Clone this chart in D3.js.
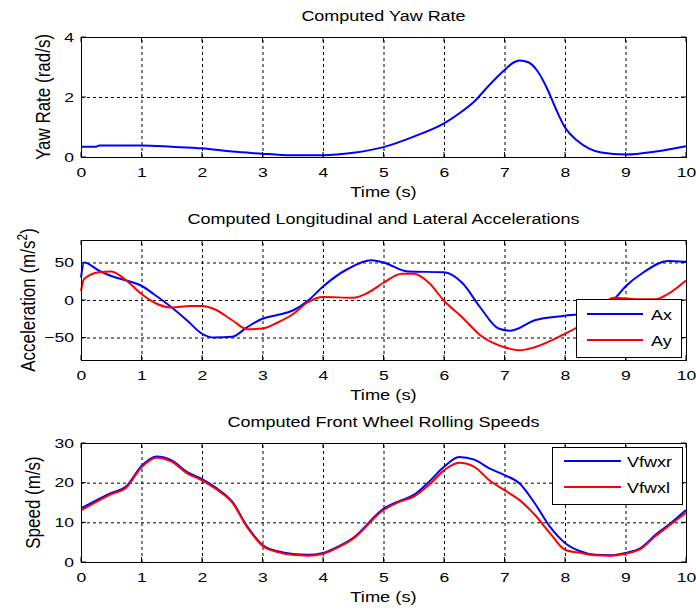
<!DOCTYPE html>
<html lang="en">
<head>
<meta charset="UTF-8">
<title>Computed vehicle signals</title>
<script src="https://d3js.org/d3.v7.min.js"></script>
<style>
    body { margin: 0; background: #fff; }
    svg { display: block; font-family: "Liberation Sans", Arial, sans-serif; }
    .grid line { stroke: #000; stroke-width: 1; stroke-dasharray: 3,3; }
    .grid path { display: none; }
    .labels path, .labels line { display: none; }
    .labels text { fill: #000; }
</style>
</head>
<body>
<svg width="696" height="612"></svg>
<script>
// time samples (s) and series
const yawTime = [0, 0.25, 0.3, 0.5, 1, 1.5, 2, 2.5, 3, 3.3, 3.5, 4, 4.5, 5, 5.5, 6, 6.25, 6.5, 6.75, 7, 7.15, 7.25, 7.4, 7.55, 7.7, 7.85, 8, 8.2, 8.4, 8.6, 9, 9.5, 10];
const yawRate = [0.34, 0.34, 0.38, 0.38, 0.38, 0.34, 0.29, 0.18, 0.11, 0.07, 0.06, 0.06, 0.14, 0.33, 0.68, 1.12, 1.45, 1.85, 2.4, 2.9, 3.15, 3.22, 3.15, 2.85, 2.3, 1.6, 0.98, 0.55, 0.28, 0.15, 0.08, 0.18, 0.36];

const axTime = [0, 0.05, 0.3, 0.5, 0.75, 1, 1.2, 1.5, 1.75, 2, 2.2, 2.5, 2.75, 3, 3.25, 3.5, 3.75, 4, 4.4, 4.8, 5, 5.4, 6, 6.3, 6.6, 6.9, 7.1, 7.5, 8, 8.3, 8.5, 8.8, 9, 9.3, 9.7, 10];
const axValues = [30, 50, 39, 32, 26, 19, 8, -10, -27, -45, -50, -49, -36, -25, -20, -14, -1, 18, 41, 53, 50, 38, 37, 23, -10, -38, -41, -27, -21, -18, -12, 0, 18, 37, 52, 51];

const ayTime = [0, 0.05, 0.3, 0.5, 0.75, 1, 1.25, 1.5, 1.8, 2, 2.2, 2.5, 2.75, 3, 3.25, 3.5, 3.75, 4, 4.5, 4.75, 5, 5.3, 5.5, 5.75, 6, 6.3, 6.6, 7, 7.25, 7.5, 8, 8.25, 8.5, 8.8, 9.2, 9.5, 9.7, 10];
const ayValues = [12, 28, 37, 38, 26, 8, -5, -10, -8, -8, -12, -27, -39, -38, -30, -19, -3, 4, 3, 10, 23, 35, 35, 23, -1, -23, -47, -63, -67, -63, -45, -34, -18, 3, 1, 1, 8, 26];

const speedTime = [0, 0.5, 0.75, 1, 1.25, 1.5, 1.75, 2, 2.25, 2.5, 2.75, 3, 3.25, 3.5, 3.75, 4, 4.25, 4.5, 5, 5.25, 5.5, 5.75, 6, 6.25, 6.5, 6.75, 7, 7.25, 7.5, 7.75, 8, 8.25, 8.5, 8.75, 9, 9.25, 9.5, 9.75, 10];
const vfwxr = [13.5, 17.4, 19.1, 24.2, 26.6, 25.6, 22.7, 20.9, 18.5, 15.2, 8.9, 4.3, 2.7, 2.0, 1.8, 2.3, 3.9, 6.1, 13.4, 15.3, 16.9, 20.2, 24.0, 26.5, 25.8, 23.6, 21.9, 19.8, 14.8, 8.9, 4.8, 2.7, 1.8, 1.7, 2.3, 3.5, 6.9, 9.8, 13.1];
const vfwxl = [13.0, 17.1, 18.8, 23.9, 26.3, 25.3, 22.4, 20.6, 18.2, 15.0, 8.7, 4.1, 2.5, 1.8, 1.6, 2.1, 3.7, 5.9, 13.1, 15.1, 16.5, 19.4, 23.1, 25.0, 24.0, 20.6, 18.1, 15.6, 11.9, 7.3, 3.1, 2.3, 1.7, 1.6, 2.1, 3.3, 6.6, 9.5, 12.4];

const timeTicks = d3.range(0, 11, 1);
const yawTicks = [0, 2, 4];
const accTicks = [-50, 0, 50];
const speedTicks = [0, 10, 20, 30];

const svg = d3.select("svg");
const left = 81, right = 686;
const sx = 1.35;   // the reference text is drawn wide

const x = d3.scaleLinear().domain([0, 10]).range([left, right]);

const panels = [
    {
        title: "Computed Yaw Rate", ylabel: ["Yaw Rate (rad/s)"], labelX: 50,
        top: 37, bottom: 157, domain: [0, 4], ticks: yawTicks,
        series: [{ t: yawTime, v: yawRate, color: "#0000ff" }]
    },
    {
        title: "Computed Longitudinal and Lateral Accelerations", ylabel: ["Acceleration (m/s", "2", ")"], labelX: 35,
        top: 240, bottom: 360, domain: [-80, 80], ticks: accTicks,
        series: [{ t: axTime, v: axValues, color: "#0000ff", name: "Ax" },
                 { t: ayTime, v: ayValues, color: "#ff0000", name: "Ay" }],
        legend: { x: 576, y: 299, w: 105, h: 58, line: [587, 643], rows: [314, 340], textX: 651 }
    },
    {
        title: "Computed Front Wheel Rolling Speeds", ylabel: ["Speed (m/s)"], labelX: 40,
        top: 443, bottom: 562, domain: [0, 30], ticks: speedTicks,
        series: [{ t: speedTime, v: vfwxr, color: "#0000ff", name: "Vfwxr" },
                 { t: speedTime, v: vfwxl, color: "#ff0000", name: "Vfwxl" }],
        legend: { x: 552, y: 447, w: 130, h: 57, line: [564, 621], rows: [461, 487], textX: 627 }
    }
];

// wide text helper
const wideText = (g, px, py, str, size, anchor, scale) =>
    g.append("text")
        .attr("transform", `translate(${px},${py}) scale(${scale},1)`)
        .attr("text-anchor", anchor)
        .attr("font-size", size)
        .attr("fill", "#000")
        .text(str);

panels.forEach(p => {
    const g = svg.append("g");
    const y = d3.scaleLinear().domain(p.domain).range([p.bottom, p.top]);
    const h = p.bottom - p.top;

    // dashed grid
    g.append("g").attr("class", "grid")
        .attr("transform", `translate(0,${p.bottom})`)
        .call(d3.axisBottom(x).tickValues(timeTicks.slice(1, -1)).tickSize(-h).tickFormat(""));
    g.append("g").attr("class", "grid")
        .attr("transform", `translate(${left},0)`)
        .call(d3.axisLeft(y).tickValues(p.ticks.filter(d => d > p.domain[0] && d < p.domain[1])).tickSize(-(right - left)).tickFormat(""));

    // inward ticks on all four sides
    const tk = 5;
    const tickG = g.append("g").attr("stroke", "#000");
    timeTicks.forEach(d => {
        tickG.append("line").attr("x1", x(d)).attr("x2", x(d)).attr("y1", p.bottom).attr("y2", p.bottom - tk);
        tickG.append("line").attr("x1", x(d)).attr("x2", x(d)).attr("y1", p.top).attr("y2", p.top + tk);
    });
    p.ticks.forEach(d => {
        tickG.append("line").attr("x1", left).attr("x2", left + tk).attr("y1", y(d)).attr("y2", y(d));
        tickG.append("line").attr("x1", right).attr("x2", right - tk).attr("y1", y(d)).attr("y2", y(d));
    });

    // data lines
    p.series.forEach(s => {
        const line = d3.line()
            .x((d, i) => x(s.t[i]))
            .y(d => y(d))
            .curve(d3.curveMonotoneX);
        g.append("path")
            .datum(s.v)
            .attr("fill", "none")
            .attr("stroke", s.color)
            .attr("stroke-width", 2)
            .attr("stroke-linejoin", "round")
            .attr("d", line);
    });

    // box
    g.append("rect")
        .attr("x", left + 0.5).attr("y", p.top + 0.5)
        .attr("width", right - left).attr("height", h)
        .attr("fill", "none").attr("stroke", "#000");

    // tick labels
    const bx = g.append("g").attr("class", "labels")
        .attr("transform", `translate(0,${p.bottom})`)
        .call(d3.axisBottom(x).tickValues(timeTicks).tickSize(0).tickPadding(11).tickFormat(d3.format("d")));
    bx.selectAll("text").attr("font-size", 13).attr("transform", `scale(${sx},1)`);

    const ly = g.append("g").attr("class", "labels")
        .attr("transform", `translate(${left},0)`)
        .call(d3.axisLeft(y).tickValues(p.ticks).tickSize(0).tickFormat(d3.format("d")));
    ly.selectAll("text").attr("font-size", 13)
        .attr("x", -7 / sx).attr("transform", `scale(${sx},1)`);
    bx.attr("font-family", null);
    ly.attr("font-family", null);

    // title and axis labels
    wideText(g, (left + right) / 2, p.top - 16, p.title, 15, "middle", 1.2);
    wideText(g, (left + right) / 2, p.bottom + 40, "Time (s)", 15, "middle", 1.22);

    const yl = g.append("text")
        .attr("transform", `translate(${p.labelX},${(p.top + p.bottom) / 2}) scale(1.2,1) rotate(-90)`)
        .attr("text-anchor", "middle")
        .attr("font-size", 17)
        .attr("fill", "#000");
    yl.append("tspan").text(p.ylabel[0]);
    if (p.ylabel.length > 1) {
        yl.append("tspan").attr("font-size", 12).attr("dy", -7).text(p.ylabel[1]);
        yl.append("tspan").attr("dy", 7).text(p.ylabel[2]);
    }

    // legend
    if (p.legend) {
        const L = p.legend;
        const lg = g.append("g");
        lg.append("rect")
            .attr("x", L.x + 0.5).attr("y", L.y + 0.5)
            .attr("width", L.w).attr("height", L.h)
            .attr("fill", "#fff").attr("stroke", "#000");
        p.series.forEach((s, i) => {
            lg.append("line")
                .attr("x1", L.line[0]).attr("x2", L.line[1])
                .attr("y1", L.rows[i]).attr("y2", L.rows[i])
                .attr("stroke", s.color).attr("stroke-width", 2);
            wideText(lg, L.textX, L.rows[i] + 6, s.name, 15, "start", 1.2);
        });
    }
});
</script>
</body>
</html>
